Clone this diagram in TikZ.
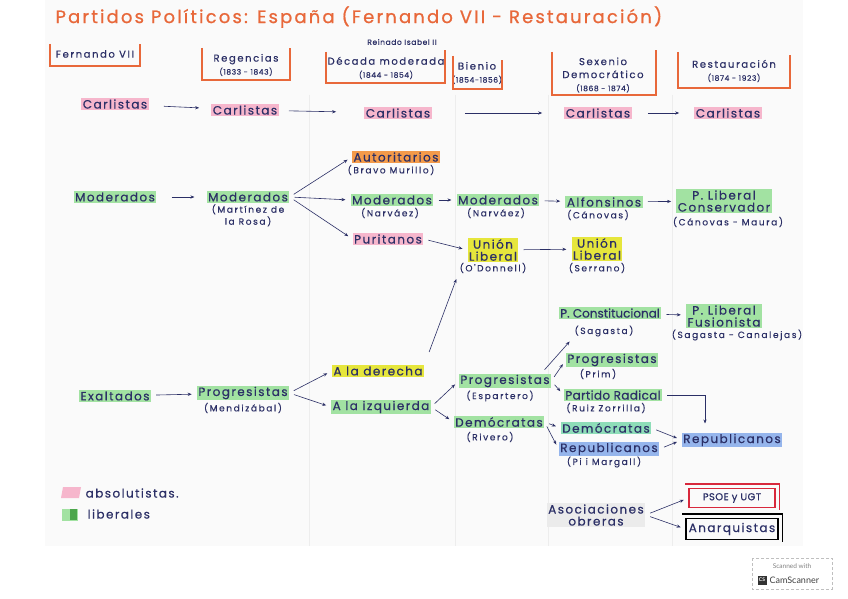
\documentclass[tikz,border=0pt]{standalone}
\usepackage{fontspec}
\setmainfont{Poppins}
\newfontfamily\handfont[LetterSpace=12,FakeBold=0.5]{Poppins}
\newfontfamily\leadfont[LetterSpace=18,FakeBold=0.4]{Poppins}
\newfontfamily\erafont[LetterSpace=16,FakeBold=0.4]{Poppins}
\newfontfamily\plainfont[LetterSpace=8,FakeBold=0.4]{Poppins}
\newfontfamily\titlefont[LetterSpace=12,FakeBold=0.8]{Poppins}
\newfontfamily\badgefont{Lato}
\usetikzlibrary{arrows.meta}

\definecolor{penblue}{HTML}{2B2F66}
\definecolor{titleor}{HTML}{E8683A}
\definecolor{hlpink}{HTML}{F6B6CC}
\definecolor{hlgreen}{HTML}{A2E2A2}
\definecolor{hlorange}{HTML}{F39A4A}
\definecolor{hlyellow}{HTML}{E6E63C}
\definecolor{hlblue}{HTML}{95B5EC}
\definecolor{hlteal}{HTML}{8EDDB8}
\definecolor{boxred}{HTML}{D8283C}

% dates under a period name
\newcommand\years[1]{{\plainfont\fontsize{7.5}{13}\selectfont #1}}

\tikzset{
  word/.style={font=\handfont\fontsize{12}{12}\selectfont, text=penblue, inner xsep=1.5pt, inner ysep=1.2pt, align=center},
  hl/.style={word, fill=#1},
  lead/.style={word, font=\leadfont\fontsize{9}{12}\selectfont},
  era/.style={word, font=\erafont\fontsize{10}{13}\selectfont},
  bracket/.style={draw=titleor, line width=1.1pt},
  arr/.style={-{Stealth[length=4pt,width=3.2pt]}, draw=penblue, line width=0.6pt, shorten >=5pt, shorten <=5pt},
  outlined/.style={word, line width=1.1pt, inner sep=2pt}
}

\begin{document}
\begin{tikzpicture}[x=1pt,y=-1pt]
  \useasboundingbox (0,0) rectangle (848,599);
  % paper and its column lines
  \fill[black!2] (45,0) rectangle (803,546);
  \foreach \x in {309,455,548,672} \draw[black!7,thin] (\x,95) -- (\x,546);

  \node[anchor=west, font=\titlefont\fontsize{18}{20}\selectfont, text=titleor] (title) at (52,17) {Partidos Políticos: España (Fernando VII - Restauración)};

  % periods
  \node[word, font=\plainfont\fontsize{7.5}{9}\selectfont] (reinado) at (402,42) {Reinado Isabel II};
  \node[era] (hfer) at (95,54) {Fernando VII};
  \node[era] (hreg) at (246,65) {Regencias\\\years{(1833 - 1843)}};
  \node[era] (hdec) at (386,68) {Década moderada\\\years{(1844 - 1854)}};
  \node[era] (hbie) at (477,73) {Bienio\\\years{(1854-1856)}};
  \node[era] (hsex) at (603,75) {Sexenio\\Democrático\\\years{(1868 - 1874)}};
  \node[era] (hres) at (734,71) {Restauración\\\years{(1874 - 1923)}};
  \draw[bracket] (50,44) -- (50,66) -- (140,66) -- (140,44);
  \draw[bracket] (202,48) -- (202,80) -- (290,80) -- (290,48);
  \draw[bracket] (326,52) -- (326,83) -- (445,83) -- (445,50);
  \draw[bracket] (453,56) -- (453,89) -- (502,89) -- (502,60);
  \draw[bracket] (552,52) -- (552,95) -- (656,95) -- (656,50);
  \draw[bracket] (678,52) -- (678,88) -- (790,88) -- (790,55);

  % carlistas
  \node[hl=hlpink] (c1) at (115,104) {Carlistas};
  \node[hl=hlpink] (c2) at (245,110) {Carlistas};
  \node[hl=hlpink] (c3) at (398,113) {Carlistas};
  \node[hl=hlpink] (c4) at (598,113) {Carlistas};
  \node[hl=hlpink] (c5) at (728,113) {Carlistas};
  \draw[arr, shorten <=15pt, shorten >=12pt] (c1) -- (c2);
  \draw[arr, shorten <=10pt, shorten >=28pt] (c2) -- (c3);
  \draw[arr, shorten <=33pt, shorten >=22pt] (c3) -- (c4);
  \draw[arr, shorten <=16pt, shorten >=15pt] (c4) -- (c5);

  % moderados
  \node[hl=hlgreen] (m1) at (115,197) {Moderados};
  \node[hl=hlgreen] (m2) at (248,197) {Moderados};
  \node[lead, below=0pt] (m2l) at (m2.south) {(Martínez de\\la Rosa)};
  \node[hl=hlorange] (aut) at (396,157) {Autoritarios};
  \node[lead] (autl) at (391,170) {(Bravo Murillo)};
  \node[hl=hlgreen] (mod3) at (392,200) {Moderados};
  \node[lead] (mod3l) at (390,213) {(Narváez)};
  \node[hl=hlpink] (pur) at (388,239) {Puritanos};
  \node[hl=hlgreen] (mod4) at (498,200) {Moderados};
  \node[lead] (mod4l) at (496,213) {(Narváez)};
  \node[hl=hlyellow] (ul1) at (493,250) {Unión\\Liberal};
  \node[lead] (ul1l) at (493,268) {(O'Donnell)};
  \node[hl=hlgreen] (alf) at (604,202) {Alfonsinos};
  \node[lead] (alfl) at (598,215) {(Cánovas)};
  \node[hl=hlyellow] (ul2) at (597,249) {Unión\\Liberal};
  \node[lead] (ul2l) at (597,268) {(Serrano)};
  \node[hl=hlgreen] (plc) at (724,201) {P. Liberal\\Conservador};
  \node[lead] (plcl) at (728,222) {(Cánovas - Maura)};
  \draw[arr, shorten <=15pt, shorten >=12pt] (m1) -- (m2);
  \draw[arr] (m2.east) -- (aut.west);
  \draw[arr] (m2.east) -- (mod3.west);
  \draw[arr] (m2.east) -- (pur.west);
  \draw[arr] (mod3) -- (mod4);
  \draw[arr] (pur.east) -- (ul1.west);
  \draw[arr] (mod4) -- (alf);
  \draw[arr] (ul1) -- (ul2);
  \draw[arr] (alf) -- (plc);

  % exaltados
  \node[hl=hlgreen] (e1) at (115,396) {Exaltados};
  \node[hl=hlgreen] (p2) at (243,393) {Progresistas};
  \node[lead] (p2l) at (243,408) {(Mendizábal)};
  \node[hl=hlyellow] (der) at (378,371) {A la derecha};
  \node[hl=hlgreen] (izq) at (381,407) {A la izquierda};
  \node[hl=hlgreen] (prog3) at (505,381) {Progresistas};
  \node[lead] (prog3l) at (500,396) {(Espartero)};
  \node[hl=hlgreen] (dem) at (499,422) {Demócratas};
  \node[lead] (deml) at (490,437) {(Rivero)};
  \node[hl=hlgreen, font=\handfont\addfontfeature{LetterSpace=0}\fontsize{12}{12}\selectfont] (pcon) at (610,313) {P. Constitucional};
  \node[lead] (pconl) at (604,331) {(Sagasta)};
  \node[hl=hlgreen] (plf) at (724,316) {P. Liberal\\Fusionista};
  \node[lead] (plfl) at (737,335) {(Sagasta - Canalejas)};
  \node[hl=hlgreen] (prim) at (612,360) {Progresistas};
  \node[lead] (priml) at (598,374) {(Prim)};
  \node[hl=hlgreen, font=\handfont\addfontfeature{LetterSpace=3}\fontsize{12}{12}\selectfont] (rad) at (613,395) {Partido Radical};
  \node[lead] (radl) at (606,408) {(Ruiz Zorrilla)};
  \node[hl=hlteal] (dem2) at (606,428) {Demócratas};
  \node[hl=hlblue] (rep1) at (609,449) {Republicanos};
  \node[lead] (rep1l) at (604,462) {(Pi i Margall)};
  \node[hl=hlblue] (rep2) at (732,440) {Republicanos};
  \draw[arr] (e1) -- (p2);
  \draw[arr] (p2.east) -- (der.west);
  \draw[arr] (p2.east) -- (izq.west);
  \draw[arr, shorten <=14pt] (der.north east) -- (ul1l.south west);
  \draw[arr] ([xshift=-10pt]prog3.north east) -- (pconl.south west);
  \draw[arr] (izq.east) -- (prog3.west);
  \draw[arr] (izq.east) -- (dem.west);
  \draw[arr] (prog3.east) -- (prim.west);
  \draw[arr] (prog3.east) -- (rad.west);
  \draw[arr] (pcon) -- (plf);
  \draw[arr, shorten >=9pt] (rad.east) -| ([xshift=-27pt]rep2.north);
  \draw[arr] (dem.east) -- (dem2.west);
  \draw[arr] (dem.east) -- (rep1.west);
  \draw[arr] (dem2.east) -- (rep2.west);
  \draw[arr] (rep1.east) -- (rep2.west);

  % workers
  \node[hl=black!8] (ao) at (596,515) {Asociaciones\\obreras};
  \node[outlined, draw=boxred, font=\handfont\addfontfeature{LetterSpace=4}\fontsize{10}{10}\selectfont, minimum width=86pt, minimum height=19pt] (psoe) at (732,498) {PSOE y UGT};
  \node[outlined, draw=black, minimum width=92pt, minimum height=21pt] (anar) at (732,529) {Anarquistas};
  \draw[boxred, line width=1.1pt] ([xshift=-3pt,yshift=4pt]psoe.north west) -- ([xshift=4pt,yshift=4pt]psoe.north east) -- ([xshift=4pt,yshift=-2pt]psoe.south east);
  \draw[line width=1.1pt] ([xshift=-3pt,yshift=4pt]anar.north west) -- ([xshift=4pt,yshift=4pt]anar.north east) -- ([xshift=4pt,yshift=-2pt]anar.south east);
  \draw[arr] (ao.east) -- (psoe.west);
  \draw[arr] (ao.east) -- (anar.west);

  % legend
  \fill[hlpink] (63,487) -- (81,487) -- (79,498) -- (61,498) -- cycle;
  \fill[hlgreen] (62,509) rectangle (78,521);
  \fill[green!50!black!70] (70,509) rectangle (77,520);
  \node[word, anchor=west] (lgabs) at (84,493) {absolutistas.};
  \node[word, anchor=west] (lglib) at (86,514) {liberales};

  % scanner badge
  \draw[black!25, densely dashed] (752,558) rectangle (832,589);
  \node[font=\badgefont\fontsize{6.5}{7}\selectfont, text=black!50] (scanned) at (792,566) {Scanned with};
  \node[fill=black!80, text=white, font=\badgefont\bfseries\fontsize{5}{6}\selectfont, inner sep=1pt, minimum size=9pt] (cslogo) at (762,580) {CS};
  \node[font=\badgefont\fontsize{9}{10}\selectfont, text=black!75, anchor=west] (camscanner) at (766,580) {CamScanner};
\end{tikzpicture}
\end{document}
